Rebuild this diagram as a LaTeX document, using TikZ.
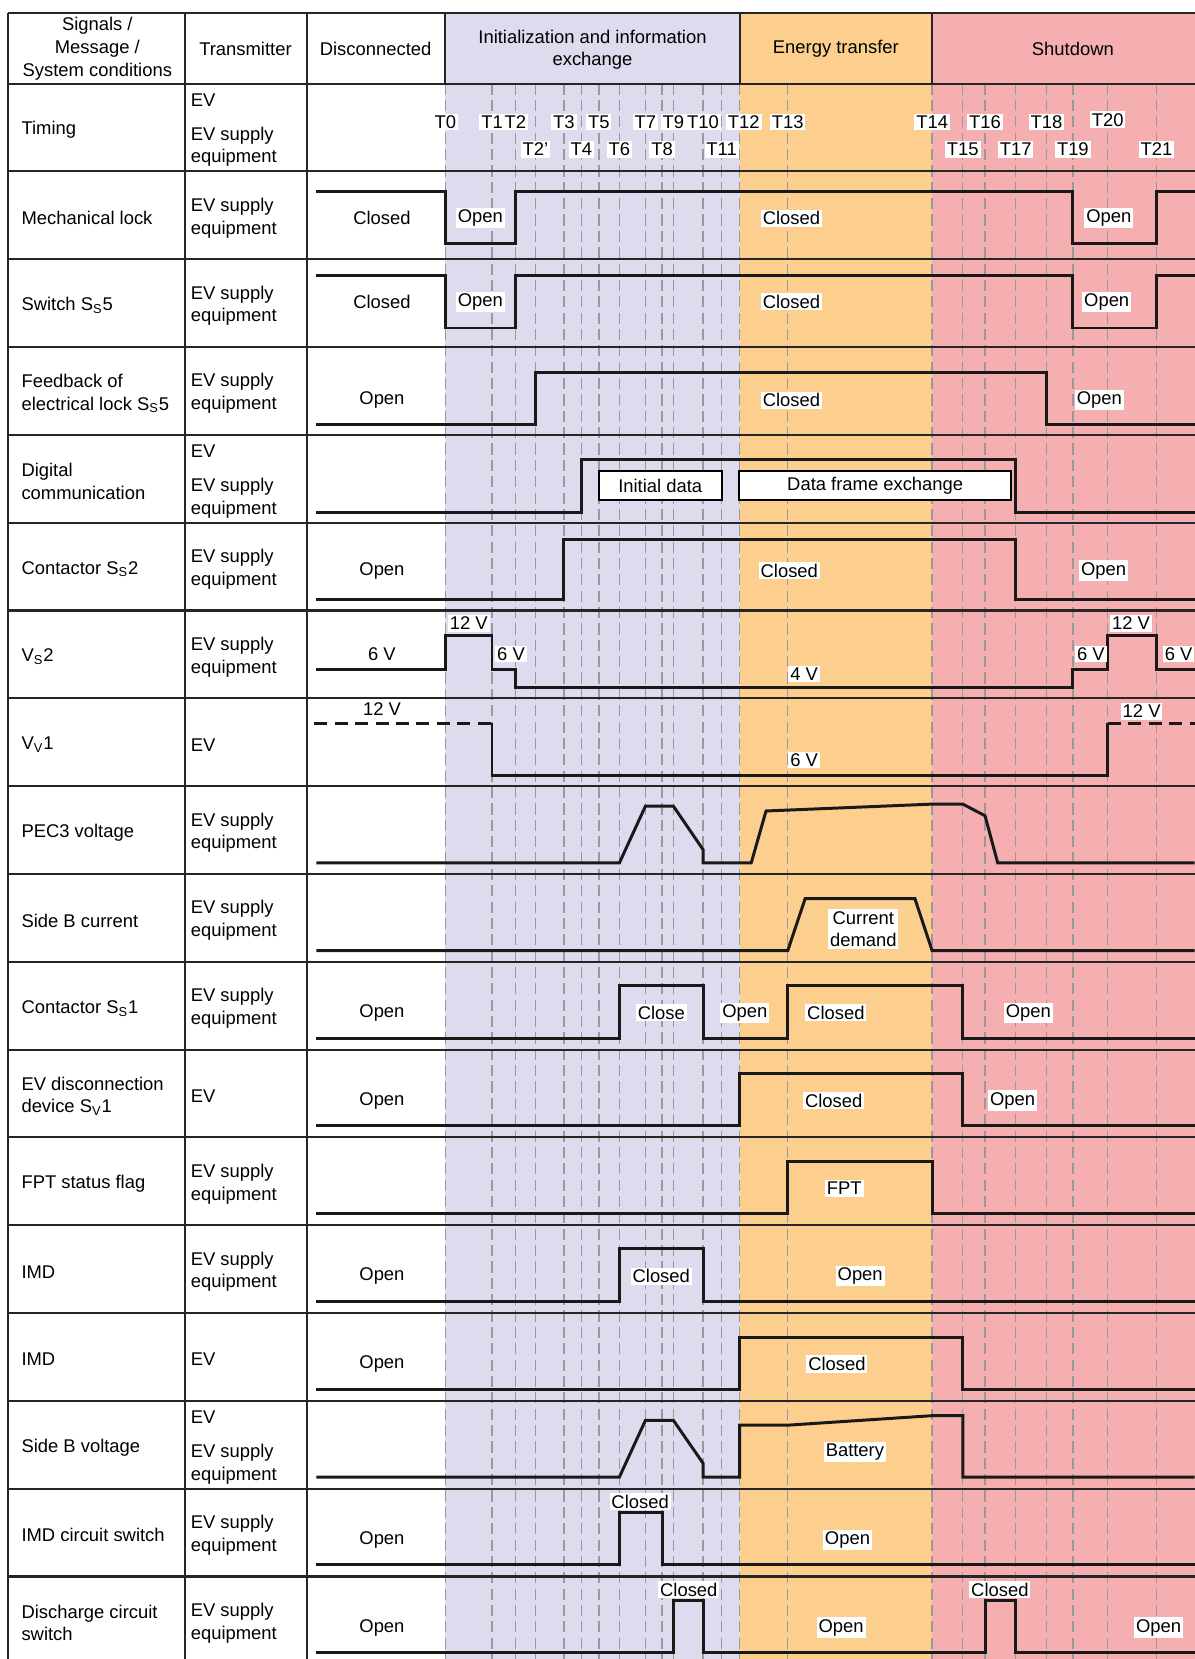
\documentclass[tikz,border=0pt]{standalone}
\usepackage{fontspec}
\setmainfont{Liberation Sans}
\usetikzlibrary{positioning}
\definecolor{initbg}{HTML}{DDDBEE}
\definecolor{energybg}{HTML}{FCCF8E}
\definecolor{shutbg}{HTML}{F5AFB0}
\begin{document}
\begin{tikzpicture}[
  x=0.02cm, y=-0.02cm,
  font=\fontsize{9.9}{12.2}\selectfont,
  grid/.style={line width=1.1pt, black!85},
  tick/.style={line width=0.7pt, black!40, dash pattern=on 6pt off 2.8pt},
  wave/.style={line width=1.6pt, black!90},
  lab/.style={fill=white, inner sep=1pt, yshift=-0.7pt},
  hdr/.style={align=center, yshift=-1.2pt},
  sig/.style={anchor=west, align=left, inner sep=0pt, yshift=-1.4pt},
  databox/.style={draw, line width=1.1pt, fill=white, minimum height=0.536cm}]
  \useasboundingbox (0,0) rectangle (1129,1568);
  % phase backgrounds
  \fill[initbg] (421,12) rectangle (699,1568);
  \fill[energybg] (699,12) rectangle (881,1568);
  \fill[shutbg] (881,12) rectangle (1129,1568);
  % timing marks
  \foreach \t in {421,465,487,506,533,549.5,566,585.4,610,625.7,636.5,664.5,682,699,744.5,881,910,931,960,989,1014,1047,1093}
    \draw[tick] (\t,79) -- (\t,1568);
  % table
  \draw[grid] (8,12) -- (1129,12);
  \foreach \y in {79,162,...,1490}
    \draw[grid] (8,\y) -- (1129,\y);
  \foreach \x in {8,175,290}
    \draw[grid] (\x,12) -- (\x,1568);
  \foreach \x in {421,699,881}
    \draw[grid] (\x,12) -- (\x,79);

  \node[hdr] (hsig) at (92,44) {Signals /\\Message /\\System conditions};
  \node[hdr] (htx) at (232,44) {Transmitter};
  \node[hdr] (hdis) at (355,44) {Disconnected};
  \node[hdr] (hinit) at (560,45) {Initialization and information\\exchange};
  \node[hdr] (hen) at (790,44) {Energy transfer};
  \node[hdr] (hshut) at (1014,44) {Shutdown};

  % signal names
  \node[sig] (stim) at (20,120.5) {Timing};
  \node[sig] (smech) at (20,203.5) {Mechanical lock};
  \node[sig] (sss5) at (20,286.5) {Switch S\textsubscript{S}5};
  \node[sig] (sfb) at (20,369.5) {Feedback of\\electrical lock S\textsubscript{S}5};
  \node[sig] (sdig) at (20,452.5) {Digital\\communication};
  \node[sig] (sss2) at (20,535.5) {Contactor S\textsubscript{S}2};
  \node[sig] (svs2) at (20,618.5) {V\textsubscript{S}2};
  \node[sig] (svv1) at (20,701.5) {V\textsubscript{V}1};
  \node[sig] (spec) at (20,784.5) {PEC3 voltage};
  \node[sig] (scur) at (20,867.5) {Side B current};
  \node[sig] (sss1) at (20,950.5) {Contactor S\textsubscript{S}1};
  \node[sig] (sdisc) at (20,1033.5) {EV disconnection\\device S\textsubscript{V}1};
  \node[sig] (sfpt) at (20,1116.5) {FPT status flag};
  \node[sig] (simd) at (20,1199.5) {IMD};
  \node[sig] (simdev) at (20,1282.5) {IMD};
  \node[sig] (sbv) at (20,1365.5) {Side B voltage};
  \node[sig] (simdsw) at (20,1448.5) {IMD circuit switch};
  \node[sig] (sdis) at (20,1531.5) {Discharge circuit\\switch};

  % transmitters
  \node[sig] (xtim) at (180,120.5) {EV\\[6pt]EV supply\\equipment};
  \foreach \y/\n in {203.5/mech,286.5/ss5,369.5/fb,535.5/ss2,618.5/vs2,784.5/pec,867.5/cur,950.5/ss1,1116.5/fpt,1199.5/imd,1448.5/imdsw,1531.5/dis}
    \node[sig] (x\n) at (180,\y) {EV supply\\equipment};
  \node[sig] (xdig) at (180,452.5) {EV\\[6pt]EV supply\\equipment};
  \node[sig] (xvv1) at (180,701.5) {EV};
  \node[sig] (xdisc) at (180,1033.5) {EV};
  \node[sig] (ximdev) at (180,1282.5) {EV};
  \node[sig] (xbv) at (180,1365.5) {EV\\[6pt]EV supply\\equipment};

  % time labels
  \foreach \n/\x in {0/421,1/465,2/487,3/533,5/566,7/610,9/636.5,10/664.5,12/703,13/744.5,14/881,16/931,18/989}
    \node[lab] (t\n) at (\x,114) {T\n};
  \node[lab] (t20) at (1047,112) {T20};
  \foreach \n/\x in {4/549.5,6/585.4,8/625.7,11/682,15/910,17/960,19/1014,21/1093}
    \node[lab] (t\n) at (\x,140) {T\n};
  \node[lab] (t2p) at (506,140) {T2'};

  % waveforms
  \draw[wave] (299,181) -- (421,181) -- (421,230) -- (487,230) -- (487,181) -- (1014,181)
    -- (1014,230) -- (1093,230) -- (1093,181) -- (1129,181);
  \draw[wave] (299,260) -- (421,260) -- (421,310) -- (487,310) -- (487,260) -- (1014,260)
    -- (1014,310) -- (1093,310) -- (1093,260) -- (1129,260);
  \draw[wave] (299,401.5) -- (506,401.5) -- (506,352) -- (989,352) -- (989,401.5) -- (1129,401.5);
  \draw[wave] (299,484) -- (549.5,484) -- (549.5,434.6) -- (960,434.6) -- (960,484) -- (1129,484);
  \draw[wave] (299,567) -- (533,567) -- (533,509.5) -- (960,509.5) -- (960,567) -- (1129,567);
  \draw[wave] (299,633) -- (421,633) -- (421,600.5) -- (465,600.5) -- (465,633) -- (487,633)
    -- (487,650) -- (1014,650) -- (1014,633) -- (1047,633) -- (1047,600.5) -- (1093,600.5)
    -- (1093,633) -- (1129,633);
  \draw[wave, dash pattern=on 7pt off 4pt] (297,683.4) -- (465,683.4);
  \draw[wave] (465,683.4) -- (465,733) -- (1047,733) -- (1047,683.4);
  \draw[wave, dash pattern=on 7pt off 4pt] (1047,683.4) -- (1129,683.4);
  \draw[wave] (299,815.6) -- (585.4,815.6) -- (610,762) -- (636.5,762) -- (664.5,803)
    -- (664.5,815.6) -- (710,815.6) -- (724,766.5) -- (881,760) -- (910,760) -- (931,771)
    -- (943,815.6) -- (1129,815.6);
  \draw[wave] (299,898.5) -- (744.5,898.5) -- (761,849.3) -- (864.7,849.3) -- (881,898.5) -- (1129,898.5);
  \draw[wave] (299,981.6) -- (585.4,981.6) -- (585.4,931.5) -- (664.5,931.5) -- (664.5,981.6)
    -- (744.5,981.6) -- (744.5,931.5) -- (910,931.5) -- (910,981.6) -- (1129,981.6);
  \draw[wave] (299,1063.8) -- (699,1063.8) -- (699,1015) -- (910,1015) -- (910,1063.8) -- (1129,1063.8);
  \draw[wave] (299,1147) -- (744.5,1147) -- (744.5,1097.5) -- (881,1097.5) -- (881,1147) -- (1129,1147);
  \draw[wave] (299,1230.3) -- (585.4,1230.3) -- (585.4,1180.3) -- (664.5,1180.3) -- (664.5,1230.3) -- (1129,1230.3);
  \draw[wave] (299,1313.2) -- (699,1313.2) -- (699,1263.7) -- (910,1263.7) -- (910,1313.2) -- (1129,1313.2);
  \draw[wave] (299,1396) -- (585.4,1396) -- (610,1342.5) -- (636.5,1342.5) -- (664.5,1383)
    -- (664.5,1396) -- (699,1396) -- (699,1347) -- (744.5,1347) -- (881,1338) -- (910,1338)
    -- (910,1396) -- (1129,1396);
  \draw[wave] (299,1479) -- (585.4,1479) -- (585.4,1429.7) -- (625.7,1429.7) -- (625.7,1479) -- (1129,1479);
  \draw[wave] (299,1562) -- (636.5,1562) -- (636.5,1513) -- (664.5,1513) -- (664.5,1562)
    -- (931,1562) -- (931,1513) -- (960,1513) -- (960,1562) -- (1129,1562);

  % data frames
  \node[databox, minimum width=2.32cm] (init) at (624,459) {Initial data};
  \node[databox, minimum width=5.15cm] (frames) at (827.2,459) {Data frame exchange};

  % state labels
  \node[lab] (mech1) at (361,205) {Closed};
  \node[lab] (mech2) at (454,205) {Open};
  \node[lab] (mech3) at (748,205) {Closed};
  \node[lab] (mech4) at (1048,205) {Open};
  \node[lab] (ss51) at (361,284) {Closed};
  \node[lab] (ss52) at (454,284) {Open};
  \node[lab] (ss53) at (748,284) {Closed};
  \node[lab] (ss54) at (1046,284) {Open};
  \node[lab] (fb1) at (361,377) {Open};
  \node[lab] (fb2) at (748,377) {Closed};
  \node[lab] (fb3) at (1039,377) {Open};
  \node[lab] (ss21) at (361,538) {Open};
  \node[lab] (ss22) at (746,538) {Closed};
  \node[lab] (ss23) at (1043,538) {Open};
  \node[lab] (vs21) at (361,617) {6 V};
  \node[lab] (vs22) at (443,588) {12 V};
  \node[lab] (vs23) at (483,617) {6 V};
  \node[lab] (vs24) at (760,636) {4 V};
  \node[lab] (vs25) at (1031,617) {6 V};
  \node[lab] (vs26) at (1069,588) {12 V};
  \node[lab] (vs27) at (1114,617) {6 V};
  \node[lab] (vv11) at (361,669) {12 V};
  \node[lab] (vv12) at (760,717) {6 V};
  \node[lab] (vv13) at (1079,671) {12 V};
  \node[lab, align=center] (cur1) at (816,877) {Current\\demand};
  \node[lab] (ss11) at (361,956) {Open};
  \node[lab] (ss12) at (625,956) {Close};
  \node[lab] (ss13) at (704,956) {Open};
  \node[lab] (ss14) at (790,956) {Closed};
  \node[lab] (ss15) at (972,956) {Open};
  \node[lab] (disc1) at (361,1039) {Open};
  \node[lab] (disc2) at (788,1039) {Closed};
  \node[lab] (disc3) at (957,1039) {Open};
  \node[lab] (fpt1) at (798,1122) {FPT};
  \node[lab] (imd1) at (361,1205) {Open};
  \node[lab] (imd2) at (625,1205) {Closed};
  \node[lab] (imd3) at (813,1205) {Open};
  \node[lab] (imdev1) at (361,1288) {Open};
  \node[lab] (imdev2) at (791,1288) {Closed};
  \node[lab] (bv1) at (808,1371) {Battery};
  \node[lab] (imdsw1) at (605,1418) {Closed};
  \node[lab] (imdsw2) at (361,1454) {Open};
  \node[lab] (imdsw3) at (801,1454) {Open};
  \node[lab] (dis1) at (651,1501) {Closed};
  \node[lab] (dis2) at (945,1501) {Closed};
  \node[lab] (dis3) at (361,1537) {Open};
  \node[lab] (dis4) at (795,1537) {Open};
  \node[lab] (dis5) at (1095,1537) {Open};
\end{tikzpicture}
\end{document}
